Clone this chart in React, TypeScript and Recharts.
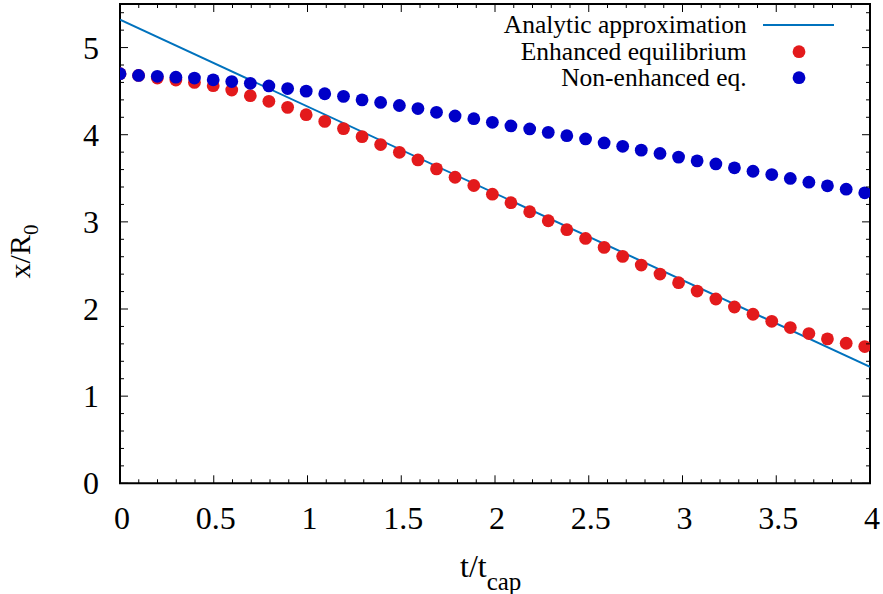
import React from 'react';
import { ScatterChart, Scatter, XAxis, YAxis, ReferenceArea } from 'recharts';

// sample times (t / t_cap)
const TIMES = [
  0, 0.099, 0.199, 0.298, 0.397, 0.497, 0.596, 0.695, 0.794, 0.894,
  0.993, 1.092, 1.192, 1.291, 1.39, 1.49, 1.589, 1.688, 1.787, 1.887,
  1.986, 2.085, 2.185, 2.284, 2.383, 2.483, 2.582, 2.681, 2.78, 2.88,
  2.979, 3.078, 3.178, 3.277, 3.376, 3.476, 3.575, 3.674, 3.773, 3.873, 3.972,
];

const ENHANCED = [
  4.7, 4.68, 4.651, 4.628, 4.6, 4.563, 4.513, 4.448, 4.383, 4.314,
  4.23, 4.153, 4.07, 3.978, 3.887, 3.798, 3.711, 3.608, 3.512, 3.417,
  3.318, 3.22, 3.116, 3.013, 2.91, 2.81, 2.707, 2.604, 2.504, 2.401,
  2.302, 2.206, 2.115, 2.023, 1.94, 1.859, 1.787, 1.718, 1.657, 1.607, 1.569,
];

const NON_ENHANCED = [
  4.7, 4.68, 4.67, 4.66, 4.65, 4.63, 4.61, 4.59, 4.56, 4.53,
  4.5, 4.47, 4.44, 4.4, 4.37, 4.335, 4.3, 4.257, 4.215, 4.184,
  4.142, 4.101, 4.066, 4.027, 3.989, 3.952, 3.906, 3.867, 3.823, 3.785,
  3.743, 3.7, 3.665, 3.62, 3.581, 3.543, 3.498, 3.455, 3.414, 3.375, 3.333,
];

const ANALYTIC_T = [0, 4];
const ANALYTIC_X = [5.32, 1.335];

const X_LABELS = [0, 0.5, 1, 1.5, 2, 2.5, 3, 3.5, 4];
const Y_LABELS = [0, 1, 2, 3, 4, 5];
const X_MINOR = Array.from({ length: 41 }, (_, i) => i / 10);
const Y_MINOR = Array.from({ length: 28 }, (_, i) => Math.round(i * 2) / 10);

const enhancedData = TIMES.map((t, i) => ({ t, x: ENHANCED[i] }));
const nonEnhancedData = TIMES.map((t, i) => ({ t, x: NON_ENHANCED[i] }));
const analyticData = ANALYTIC_T.map((t, i) => ({ t, x: ANALYTIC_X[i] }));

const FONT = "'Liberation Serif', 'DejaVu Serif', serif";
const RED = '#e31a1c';
const BLUE = '#0000c8';
const LINE = '#0072bd';

const W = 883;
const H = 594;
const PLOT_TOP = 4;
const PLOT_RIGHT = 870;
const PLOT_LEFT = 120;
const DOT_R = 6.4;

const isMajor = (v: number, list: number[]) => list.some((m) => Math.abs(m - v) < 1e-6);
const serif = { fontFamily: FONT };

const XTick = (props: any) => {
  const { x, y, payload } = props;
  const major = isMajor(payload.value, X_LABELS);
  const len = major ? 8 : 4;
  return (
    <g>
      <line x1={x} x2={x} y1={y} y2={y - len} stroke="#000" strokeWidth={1} />
      <line x1={x} x2={x} y1={PLOT_TOP} y2={PLOT_TOP + len} stroke="#000" strokeWidth={1} />
      {major && (
        <text x={x + 2} y={y + 46} textAnchor="middle" style={serif} fontSize={32} fill="#000">
          {payload.value}
        </text>
      )}
    </g>
  );
};

const YTick = (props: any) => {
  const { x, y, payload } = props;
  const major = isMajor(payload.value, Y_LABELS);
  const len = major ? 8 : 4;
  return (
    <g>
      <line x1={x} x2={x + len} y1={y} y2={y} stroke="#000" strokeWidth={1} />
      <line x1={PLOT_RIGHT} x2={PLOT_RIGHT - len} y1={y} y2={y} stroke="#000" strokeWidth={1} />
      {major && (
        <text x={PLOT_LEFT - 21} y={y + 11} textAnchor="end" style={serif} fontSize={32} fill="#000">
          {payload.value}
        </text>
      )}
    </g>
  );
};

const Dot = (color: string) => (props: any) => {
  const { cx, cy } = props;
  return <circle cx={cx} cy={cy} r={DOT_R} fill={color} />;
};

const App: React.FC = () => {
  return (
    <div style={{ position: 'absolute', left: 0, top: 0, width: W, height: H, background: '#fff' }}>
      <ScatterChart width={W} height={H} margin={{ top: PLOT_TOP, right: W - PLOT_RIGHT, bottom: 0, left: 0 }}>
        <XAxis
          type="number"
          dataKey="t"
          domain={[0, 4]}
          ticks={X_MINOR}
          interval={0}
          height={110.7}
          tickSize={0}
          tickMargin={0}
          tick={<XTick />}
          axisLine={false}
          allowDataOverflow
        />
        <YAxis
          type="number"
          dataKey="x"
          domain={[0, 5.5]}
          ticks={Y_MINOR}
          interval={0}
          width={PLOT_LEFT}
          tickSize={0}
          tickMargin={0}
          tick={<YTick />}
          axisLine={false}
          allowDataOverflow
        />
        <ReferenceArea x1={0} x2={4} y1={0} y2={5.5} fill="none" stroke="#000" strokeWidth={2} />
        <Scatter
          data={analyticData}
          line={{ stroke: LINE, strokeWidth: 2 }}
          shape={() => null}
          isAnimationActive={false}
        />
        <Scatter data={enhancedData} shape={Dot(RED)} isAnimationActive={false} />
        <Scatter data={nonEnhancedData} shape={Dot(BLUE)} isAnimationActive={false} />
      </ScatterChart>

      <svg width={W} height={H} style={{ position: 'absolute', left: 0, top: 0, pointerEvents: 'none' }}>
        {/* legend */}
        <g style={serif} fontSize={25.5} fill="#000">
          <text x={746.7} y={33} textAnchor="end" style={serif}>Analytic approximation</text>
          <text x={746.7} y={59.5} textAnchor="end" style={serif}>Enhanced equilibrium</text>
          <text x={746.7} y={86} textAnchor="end" style={serif}>Non-enhanced eq.</text>
        </g>
        <line x1={763} x2={834} y1={25} y2={25} stroke={LINE} strokeWidth={2} />
        <circle cx={799} cy={51.7} r={DOT_R} fill={RED} />
        <circle cx={799} cy={77.7} r={DOT_R} fill={BLUE} />

        {/* axis titles */}
        <text x={460} y={577} style={serif} fontSize={32} fill="#000">
          t/t<tspan fontSize={25} dy={13}>cap</tspan>
        </text>
        <text
          x={30}
          y={251.5}
          transform="rotate(-90, 30, 251.5)"
          textAnchor="middle"
          style={serif}
          fontSize={30}
          fill="#000"
        >
          x/R<tspan fontSize={21} dy={8}>0</tspan>
        </text>
      </svg>
    </div>
  );
};

export default App;
